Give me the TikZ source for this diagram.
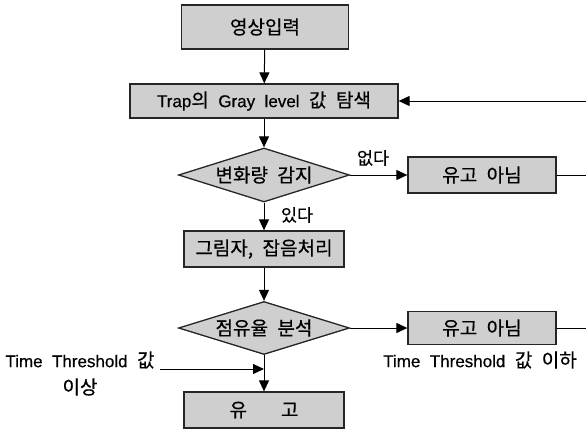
\documentclass[tikz,border=0pt]{standalone}
\usepackage{fontspec}
\setmainfont{Liberation Sans}[WordSpace=2,FakeBold=0.4]
\newfontfamily\kr{Noto Sans CJK KR}[WordSpace=2.2,Scale=1.12,FakeBold=0.5]
\usetikzlibrary{shapes.geometric,arrows.meta}
\begin{document}
\begin{tikzpicture}[x=1pt,y=-1pt,
  every node/.style={font=\fontsize{17pt}{20pt}\selectfont},
  procbox/.style={draw=black!85,line width=1.3pt,fill=black!19,inner sep=0pt},
  decbox/.style={diamond,draw=black!85,line width=1.3pt,fill=black!19,inner sep=0pt,aspect=3.17},
  lbl/.style={font=\fontsize{15.5pt}{18pt}\selectfont,inner sep=0pt},
  arr/.style={line width=1pt,-{Triangle[length=11pt,width=10pt]}},
  ln/.style={line width=1pt}]
\useasboundingbox (0,0) rectangle (586,431);
\node[procbox,minimum width=167pt,minimum height=44pt] (b1) at (265,27) {\kr 영상입력};
\node[procbox,minimum width=268pt,minimum height=34pt] (b2) at (264,101) {Trap{\kr 의} Gray level {\kr 값 탐색}};
\node[decbox,minimum width=171pt,minimum height=54pt] (d1) at (264,175) {\kr 변화량 감지};
\node[procbox,minimum width=160pt,minimum height=36pt] (b3) at (264,249) {\kr 그림자, 잡음처리};
\node[decbox,minimum width=171pt,minimum height=53pt] (d2) at (264,328) {\kr 점유율 분석};
\node[procbox,minimum width=160pt,minimum height=36pt] (b4) at (264,410) {\kr 유\hspace{34pt}고};
\node[procbox,minimum width=148pt,minimum height=36pt] (n1) at (482,175) {\kr 유고 아님};
\node[procbox,minimum width=148pt,minimum height=33pt] (n2) at (482,328) {\kr 유고 아님};
% labels
\node[lbl] (lno) at (373,158) {\kr 없다};
\node[lbl] (lyes) at (297,215) {\kr 있다};
\node[inner sep=0pt] (tlow) at (480,360) {Time Threshold {\kr 값 이하}};
\node[inner sep=0pt] (thigh) at (80,360) {Time Threshold {\kr 값}};
\node[inner sep=0pt] (thigh2) at (80,387) {\kr 이상};
% loop coordinates (right edge)
\coordinate (r1) at (592,101);
\coordinate (r2) at (592,175);
\coordinate (r3) at (592,328);
\coordinate (s) at (160,369);
% connectors
\draw[arr] (b1) -- (b2);
\draw[arr] (b2) -- (d1);
\draw[arr] (d1) -- (b3);
\draw[arr] (b3) -- (d2);
\draw[arr] (d2) -- (b4);
\draw[arr] (d1) -- (n1);
\draw[arr] (d2) -- (n2);
\draw[ln] (n1.east) -- (r2);
\draw[ln] (n2.east) -- (r3) -- (r1);
\draw[arr] (r1) -- (b2.east);
\draw[arr] (s) -- (s -| b4.north);
\end{tikzpicture}
\end{document}
